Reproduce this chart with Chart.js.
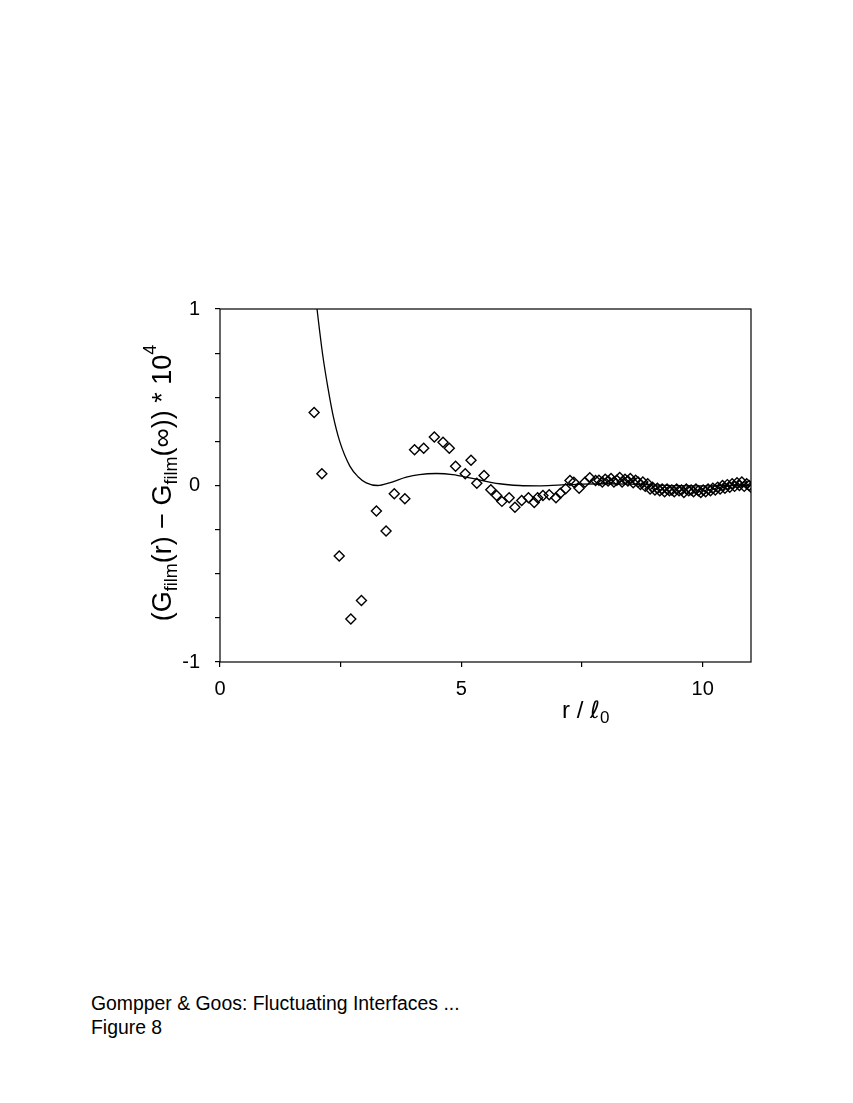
<!DOCTYPE html>
<html>
<head>
<meta charset="utf-8">
<script src="https://cdn.jsdelivr.net/npm/chart.js@4.4.1/dist/chart.umd.min.js"></script>
<style>
  body { margin: 0; background: #fff; width: 853px; height: 1103px; position: relative; overflow: hidden;
         font-family: "Liberation Sans", Arial, Helvetica, sans-serif; }
  #wrap { position: absolute; left: 0; top: 0; width: 853px; height: 760px; }
  #caption { position: absolute; left: 91px; top: 991px; font-size: 19.4px; line-height: 24px; color: #000; }
</style>
</head>
<body>
<div id="wrap"><canvas id="chart" width="853" height="760"></canvas></div>
<div id="caption">Gompper &amp; Goos: Fluctuating Interfaces ...<br>Figure 8</div>
<script>
// theory curve
const curveR = [1.97, 2.01, 2.13, 2.24, 2.34, 2.48, 2.69, 2.86, 3.03, 3.27, 3.51, 3.86, 4.13, 4.48, 4.82, 5.23, 5.79, 6.2, 6.6, 7.0, 7.5, 8.0, 8.5, 9.0, 9.5, 10.0, 10.5, 11.0];
const curveG = [1.10, 1.00, 0.735, 0.547, 0.40, 0.25, 0.11, 0.05, 0.015, 0.0, 0.015, 0.047, 0.062, 0.068, 0.062, 0.04, 0.01, 0.0, -0.002, 0.002, 0.008, 0.01, 0.008, 0.003, -0.001, -0.002, 0.0, 0.001];

// simulation points
const simR = [1.95, 2.11, 2.47, 2.71, 2.93, 3.24, 3.44, 3.61, 3.83, 4.03, 4.22, 4.44, 4.62, 4.75, 4.88, 5.08, 5.20, 5.32, 5.47,
  5.61, 5.73, 5.84, 5.99, 6.11, 6.25, 6.39, 6.51, 6.58, 6.69, 6.82, 6.96, 7.05, 7.16, 7.25, 7.33, 7.44, 7.56, 7.66, 7.78,
  7.85, 7.92, 7.98, 8.04, 8.10, 8.16, 8.22, 8.28, 8.33, 8.39, 8.45, 8.50, 8.56, 8.61, 8.66, 8.71, 8.76, 8.81, 8.86, 8.91,
  8.96, 9.01, 9.06, 9.11, 9.16, 9.21, 9.26, 9.31, 9.36, 9.41, 9.46, 9.51, 9.56, 9.61, 9.66, 9.71, 9.76, 9.81, 9.86, 9.91,
  9.96, 10.01, 10.06, 10.11, 10.16, 10.21, 10.26, 10.31, 10.36, 10.41, 10.46, 10.51, 10.56, 10.61, 10.66, 10.71, 10.76,
  10.81, 10.86, 10.91, 10.96, 11.0];
const simG = [0.413, 0.066, -0.40, -0.756, -0.652, -0.145, -0.258, -0.047, -0.075, 0.202, 0.211, 0.275, 0.245, 0.211, 0.109, 0.066, 0.143, 0.013, 0.057,
  -0.024, -0.057, -0.09, -0.07, -0.123, -0.085, -0.07, -0.096, -0.07, -0.057, -0.053, -0.07, -0.044, -0.019, 0.028, 0.019, -0.015, 0.019, 0.044, 0.028,
  0.03, 0.02, 0.035, 0.025, 0.04, 0.02, 0.03, 0.045, 0.02, 0.035, 0.025, 0.04, 0.015, 0.03, 0.02, 0.005, 0.02, -0.005, 0.01, -0.02,
  -0.01, -0.025, -0.015, -0.03, -0.02, -0.035, -0.02, -0.03, -0.025, -0.035, -0.02, -0.03, -0.025, -0.04, -0.02, -0.03, -0.025, -0.035, -0.02, -0.03,
  -0.04, -0.025, -0.035, -0.02, -0.03, -0.015, -0.025, -0.01, -0.02, 0.0, -0.015, 0.005, -0.01, 0.01, -0.005, 0.015, 0.0,
  0.02, -0.005, 0.01, 0.0, -0.01];

const xTicksShown = [0, 5, 10];
const yTicksShown = [-1, 0, 1];

const FONT = '"Liberation Sans", Arial, Helvetica, sans-serif';

// draw a run of text pieces (main / sub / sup) starting at x on baseline y
function runWidth(ctx, pieces) {
  let w = 0;
  pieces.forEach(p => { ctx.font = p.size + 'px ' + (p.family || FONT); w += ctx.measureText(p.t).width; });
  return w;
}
function drawRun(ctx, pieces, x, y) {
  pieces.forEach(p => {
    ctx.font = p.size + 'px ' + (p.family || FONT);
    ctx.fillText(p.t, x, y + (p.dy || 0));
    x += ctx.measureText(p.t).width;
  });
}

const titles = {
  id: 'titles',
  afterDraw(chart) {
    const ctx = chart.ctx;
    const a = chart.chartArea;
    ctx.save();
    // frame
    ctx.strokeStyle = '#000';
    ctx.lineWidth = 1.2;
    ctx.strokeRect(a.left, a.top, a.right - a.left, a.bottom - a.top);

    ctx.fillStyle = '#000';
    ctx.textBaseline = 'alphabetic';
    ctx.textAlign = 'left';

    // x title
    const xt = [
      { t: 'r / ', size: 24 },
      { t: '\u2113', size: 24, family: '"DejaVu Sans", ' + FONT },
      { t: '0', size: 17, dy: 5 }
    ];
    drawRun(ctx, xt, 562, 718);

    // y title, rotated
    const S = 27, s = 18;
    const yt = [
      { t: '(G', size: S },
      { t: 'film', size: s, dy: 6 },
      { t: '(r) \u2212 G', size: S },
      { t: 'film', size: s, dy: 6 },
      { t: '(\u221E)) * 10', size: S },
      { t: '4', size: s, dy: -15 }
    ];
    const w = runWidth(ctx, yt);
    ctx.translate(171, 483);
    ctx.rotate(-Math.PI / 2);
    drawRun(ctx, yt, -w / 2, 0);
    ctx.restore();
  }
};

const tickFont = { family: FONT, size: 20 };

new Chart(document.getElementById('chart'), {
  type: 'scatter',
  data: {
    datasets: [
      {
        label: 'theory',
        data: curveR.map((r, i) => ({ x: r, y: curveG[i] })),
        showLine: true,
        pointRadius: 0,
        borderColor: '#000',
        borderWidth: 1.3,
        cubicInterpolationMode: 'monotone',
        fill: false
      },
      {
        label: 'simulation',
        data: simR.map((r, i) => ({ x: r, y: simG[i] })),
        showLine: false,
        pointStyle: 'rectRot',
        pointRadius: 5,
        borderWidth: 1.4,
        borderColor: '#000',
        backgroundColor: 'rgba(0,0,0,0)'
      }
    ]
  },
  options: {
    responsive: false,
    animation: false,
    layout: { padding: { top: 309, right: 102, left: 0, bottom: 0 } },
    plugins: { legend: { display: false }, tooltip: { enabled: false } },
    scales: {
      x: {
        type: 'linear', min: 0, max: 11,
        afterFit(scale) { scale.height = 98; },
        ticks: {
          stepSize: 2.5, includeBounds: false, autoSkip: false, maxRotation: 0, padding: 10,
          color: '#000', font: tickFont,
          callback: v => xTicksShown.includes(v) ? String(v) : ''
        },
        grid: { drawOnChartArea: false, drawTicks: true, tickLength: 5, color: '#000', lineWidth: 1.2 },
        border: { display: false }
      },
      y: {
        type: 'linear', min: -1, max: 1,
        afterFit(scale) { scale.width = 220; },
        ticks: {
          stepSize: 0.25, includeBounds: false, autoSkip: false, padding: 15,
          color: '#000', font: tickFont,
          callback: v => yTicksShown.includes(v) ? String(v) : ''
        },
        grid: { drawOnChartArea: false, drawTicks: true, tickLength: 5, color: '#000', lineWidth: 1.2 },
        border: { display: false }
      }
    }
  },
  plugins: [titles]
});
</script>
</body>
</html>
